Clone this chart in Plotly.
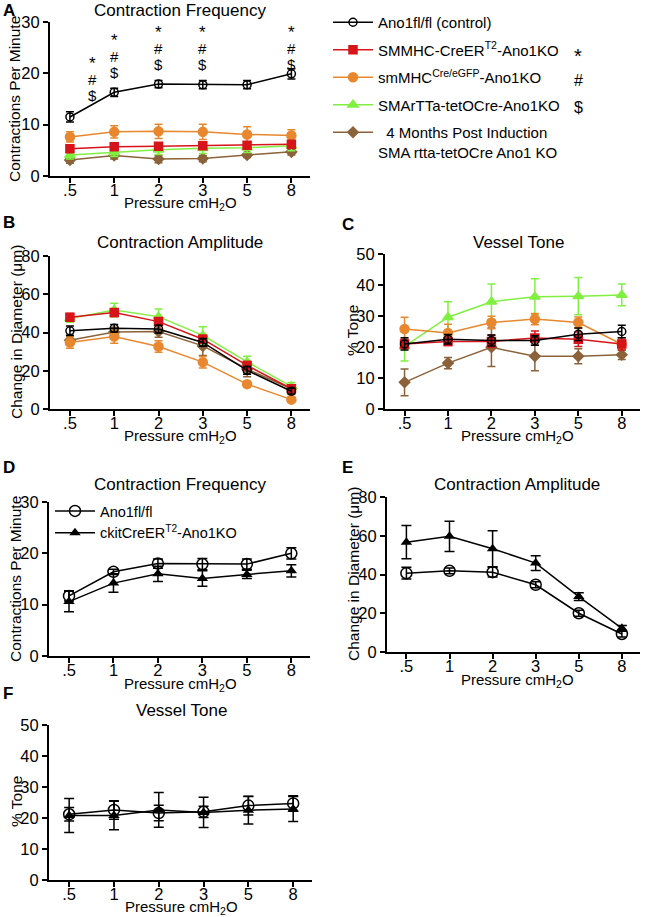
import plotly.graph_objects as go

W, H = 650, 917
FONT = "Liberation Sans, Arial, sans-serif"

pressure = [".5", "1", "2", "3", "5", "8"]

# Panel A - contraction frequency (mean, sem)
a_ctrl = [11.5, 16.3, 17.9, 17.8, 17.8, 19.9]
a_ctrl_err = [1.0, 0.8, 0.7, 0.8, 0.8, 1.0]
a_smmhc = [5.3, 5.7, 5.8, 5.9, 6.0, 6.2]
a_smmhc_err = [0.5, 0.4, 0.5, 0.5, 0.5, 0.5]
a_smgfp = [7.6, 8.6, 8.7, 8.6, 8.1, 7.9]
a_smgfp_err = [1.0, 1.2, 1.4, 1.5, 1.5, 1.1]
a_sma = [4.1, 4.6, 5.1, 5.4, 5.5, 5.9]
a_sma_err = [0.8, 0.8, 0.9, 1.0, 0.9, 1.0]
a_sma4 = [3.1, 4.0, 3.3, 3.4, 4.1, 4.7]
a_sma4_err = [0.6, 0.7, 0.7, 0.6, 0.5, 0.6]

# Panel B - contraction amplitude
b_ctrl = [40.9, 42.2, 41.8, 34.8, 20.2, 9.3]
b_ctrl_err = [2.5, 2.0, 2.0, 2.0, 2.0, 1.5]
b_smmhc = [48.0, 50.4, 45.7, 36.5, 22.8, 10.6]
b_smmhc_err = [2.0, 2.0, 2.0, 2.0, 2.0, 1.5]
b_smgfp = [34.8, 37.9, 32.7, 24.5, 13.0, 4.9]
b_smgfp_err = [3.0, 3.5, 3.0, 3.0, 1.5, 1.0]
b_sma = [47.3, 51.8, 48.3, 38.5, 24.6, 11.8]
b_sma_err = [2.0, 3.5, 4.0, 4.5, 3.0, 2.0]
b_sma4 = [36.0, 40.2, 40.5, 33.0, 20.9, 10.6]
b_sma4_err = [2.5, 2.5, 3.0, 5.0, 4.0, 2.0]

# Panel C - vessel tone
c_ctrl = [21.0, 22.5, 22.1, 22.1, 24.1, 25.0]
c_ctrl_err = [2.0, 1.5, 1.8, 1.5, 2.0, 2.0]
c_smmhc = [21.0, 21.8, 21.8, 22.9, 22.5, 21.0]
c_smmhc_err = [1.5, 1.3, 2.0, 2.3, 2.3, 2.0]
c_smgfp = [25.8, 24.5, 27.9, 29.0, 27.9, 20.9]
c_smgfp_err = [3.8, 2.8, 2.0, 1.8, 1.8, 1.5]
c_sma = [20.2, 29.6, 34.6, 36.2, 36.4, 36.8]
c_sma_err = [4.7, 5.0, 5.7, 5.8, 6.0, 3.5]
c_sma4 = [8.6, 14.8, 19.9, 17.0, 17.0, 17.5]
c_sma4_err = [4.3, 1.8, 6.2, 4.7, 2.4, 1.5]

# Panels D-F - ckit knockout vs control
d_ctrl = [11.7, 16.4, 18.0, 17.9, 17.9, 20.0]
d_ctrl_err = [1.0, 0.5, 0.9, 1.1, 1.0, 1.1]
d_ckit = [10.6, 14.2, 16.0, 15.1, 15.9, 16.6]
d_ckit_err = [2.0, 1.8, 1.5, 1.5, 0.8, 1.2]
e_ctrl = [40.7, 41.9, 41.2, 34.7, 20.0, 9.3]
e_ctrl_err = [3.0, 1.5, 2.5, 1.5, 1.5, 1.5]
e_ckit = [56.7, 59.7, 53.3, 45.9, 28.6, 12.2]
e_ckit_err = [8.6, 7.8, 9.3, 3.8, 2.0, 1.5]
f_ctrl = [21.2, 22.6, 21.6, 22.0, 24.0, 24.7]
f_ctrl_err = [2.2, 3.0, 2.5, 1.8, 3.0, 2.5]
f_ckit = [20.8, 20.8, 22.6, 21.8, 22.5, 22.9]
f_ckit_err = [5.5, 4.6, 5.6, 4.9, 4.4, 4.0]

sig_marks = ["$", "#", "*"]

series = [
    ("ctrl", "Ano1fl/fl (control)", "black", "circle-open", 8),
    ("smmhc", "SMMHC-CreER<sup>T2</sup>-Ano1KO", "#d7141a", "square", 8),
    ("smgfp", "smMHC<sup>Cre/eGFP</sup>-Ano1KO", "#e8872e", "circle", 9),
    ("sma", "SMArTTa-tetOCre-Ano1KO", "#80f040", "triangle-up", 9),
    ("sma4", "\u00a0\u00a04 Months Post Induction<br>SMA rtta-tetOCre Ano1 KO", "#8b6239", "diamond", 8),
]
panel_a = {"ctrl": (a_ctrl, a_ctrl_err), "smmhc": (a_smmhc, a_smmhc_err),
           "smgfp": (a_smgfp, a_smgfp_err), "sma": (a_sma, a_sma_err),
           "sma4": (a_sma4, a_sma4_err)}
panel_b = {"ctrl": (b_ctrl, b_ctrl_err), "smmhc": (b_smmhc, b_smmhc_err),
           "smgfp": (b_smgfp, b_smgfp_err), "sma": (b_sma, b_sma_err),
           "sma4": (b_sma4, b_sma4_err)}
panel_c = {"ctrl": (c_ctrl, c_ctrl_err), "smmhc": (c_smmhc, c_smmhc_err),
           "smgfp": (c_smgfp, c_smgfp_err), "sma": (c_sma, c_sma_err),
           "sma4": (c_sma4, c_sma4_err)}


def fx(x):
    return x / W


def fy(y):
    return 1 - y / H


fig = go.Figure()

draw_order = ["sma4", "sma", "smgfp", "smmhc", "ctrl"]
keys = [s[0] for s in series]
lookup = {s[0]: s for s in series}
for idx, panel in [("", panel_a), ("2", panel_b), ("3", panel_c)]:
    for key in draw_order:
        _, name, color, symbol, size = lookup[key]
        y, err = panel[key]
        fig.add_trace(go.Scatter(
            x=pressure, y=y, name=name, mode="lines+markers",
            legendgroup=key, legendrank=keys.index(key),
            showlegend=(idx == ""),
            line=dict(color=color, width=1.5),
            marker=dict(symbol=symbol, size=size, color=color,
                        line=dict(color=color, width=1.5)),
            error_y=dict(type="data", array=err, color=color, thickness=1.5, width=4),
            xaxis="x" + idx, yaxis="y" + idx,
        ))

for idx, ctrl, ckit in [("4", (d_ctrl, d_ctrl_err), (d_ckit, d_ckit_err)),
                        ("5", (e_ctrl, e_ctrl_err), (e_ckit, e_ckit_err)),
                        ("6", (f_ctrl, f_ctrl_err), (f_ckit, f_ckit_err))]:
    fig.add_trace(go.Scatter(
        x=pressure, y=ckit[0], name="ckitCreER<sup>T2</sup>-Ano1KO",
        mode="lines+markers", legend="legend2", legendrank=2,
        showlegend=(idx == "4"),
        line=dict(color="black", width=1.5),
        marker=dict(symbol="triangle-up", size=10, color="black"),
        error_y=dict(type="data", array=ckit[1], color="black", thickness=1.5, width=5),
        xaxis="x" + idx, yaxis="y" + idx,
    ))
    fig.add_trace(go.Scatter(
        x=pressure, y=ctrl[0], name="Ano1fl/fl",
        mode="lines+markers", legend="legend2", legendrank=1,
        showlegend=(idx == "4"),
        line=dict(color="black", width=1.5),
        marker=dict(symbol="circle-open", size=11, color="black", line=dict(width=1.5)),
        error_y=dict(type="data", array=ctrl[1], color="black", thickness=1.5, width=5),
        xaxis="x" + idx, yaxis="y" + idx,
    ))

axis_common = dict(
    showline=True, linewidth=2, linecolor="black", ticks="outside", ticklen=5,
    tickwidth=2, tickcolor="black", showgrid=False, zeroline=False,
    automargin=False,
    tickfont=dict(family=FONT, size=16.5, color="black"),
)

# panel boxes in pixels: (left, right, top, bottom, ymax, dtick)
boxes = [
    ("", 50, 310, 22, 176, 30, 10),
    ("2", 50, 310, 256, 409, 80, 20),
    ("3", 385, 640, 254, 409, 50, 10),
    ("4", 49, 310, 502, 656, 30, 10),
    ("5", 387, 640, 497, 652, 80, 20),
    ("6", 49, 312, 725, 880, 50, 10),
]
layout_axes = {}
for idx, l, r, t, b, ymax, dtick in boxes:
    layout_axes["xaxis" + idx] = dict(
        axis_common, domain=[fx(l), fx(r)], type="category", range=[-0.45, 5.42],
        anchor="y" + idx, ticklabelstandoff=-7,
    )
    layout_axes["yaxis" + idx] = dict(
        axis_common, domain=[fy(b), fy(t)], range=[0, ymax], dtick=dtick,
        anchor="x" + idx,
    )
fig.update_layout(**layout_axes)

ann = []


def text(x, y, s, size=15, bold=False, angle=0, xanchor="center"):
    ann.append(dict(
        x=fx(x), y=fy(y), xref="paper", yref="paper", text=f"<b>{s}</b>" if bold else s,
        showarrow=False, xanchor=xanchor, yanchor="middle", textangle=angle,
        font=dict(family=FONT, size=size, color="black"),
    ))


# panel letters
for s, x, y in [("A", 1, 11), ("B", 1, 223), ("C", 340, 225), ("D", 1, 467), ("E", 340, 467), ("F", 1, 693)]:
    text(x, y, s, size=17, bold=True, xanchor="left")

# titles
for s, x, y in [("Contraction Frequency", 180, 11), ("Contraction Amplitude", 180, 243),
                ("Vessel Tone", 518, 243), ("Contraction Frequency", 180, 484),
                ("Contraction Amplitude", 517, 484), ("Vessel Tone", 181, 710)]:
    text(x, y, s, size=17)

# axis titles
xt = "Pressure cmH<sub>2</sub>O"
for x, y in [(180, 203), (180, 436), (517, 436), (180, 684), (517, 680), (181, 907)]:
    text(x, y, xt, size=15)
for s, x, y in [("Contractions Per Minute", 15, 99), ("Change in Diameter (\u03bcm)", 16, 332),
                ("% Tone", 352, 331), ("Contractions Per Minute", 15, 579),
                ("Change in Diameter (\u03bcm)", 353, 574), ("% Tone", 16, 802)]:
    text(x, y, s, size=15.5, angle=-90)

# significance marks above control in panel A
for i, p in enumerate(pressure):
    for j, m in enumerate(sig_marks):
        ann.append(dict(
            x=p, y=a_ctrl[i] + a_ctrl_err[i], xref="x", yref="y", text=m,
            showarrow=False, yanchor="middle", yshift=16 + 16 * j,
            font=dict(family=FONT, size=15 if m != "*" else 17, color="black"),
        ))

# legend significance keys
for m, y, s in [("*", 56, 20), ("#", 81, 16), ("$", 107, 16)]:
    text(578, y, m, size=s)

fig.update_layout(
    width=W, height=H, autosize=False,
    margin=dict(l=0, r=0, t=0, b=0, autoexpand=False),
    paper_bgcolor="white", plot_bgcolor="white",
    font=dict(family=FONT, size=14, color="black"),
    annotations=ann,
    legend=dict(
        x=fx(328), y=fy(6), xanchor="left", yanchor="top",
        font=dict(family=FONT, size=15, color="black"),
        traceorder="grouped", tracegroupgap=5, valign="top",
        bgcolor="rgba(0,0,0,0)", itemwidth=40,
    ),
    legend2=dict(
        x=fx(50), y=fy(495), xanchor="left", yanchor="top",
        font=dict(family=FONT, size=14.5, color="black"),
        traceorder="normal", bgcolor="rgba(0,0,0,0)", itemwidth=40,
    ),
)

# drop the browser's default 8px body margin so the figure fills the window
fig.write_html(
    "out.html",
    config={"displayModeBar": False},
    post_script="document.body.style.margin = '0px';",
)
